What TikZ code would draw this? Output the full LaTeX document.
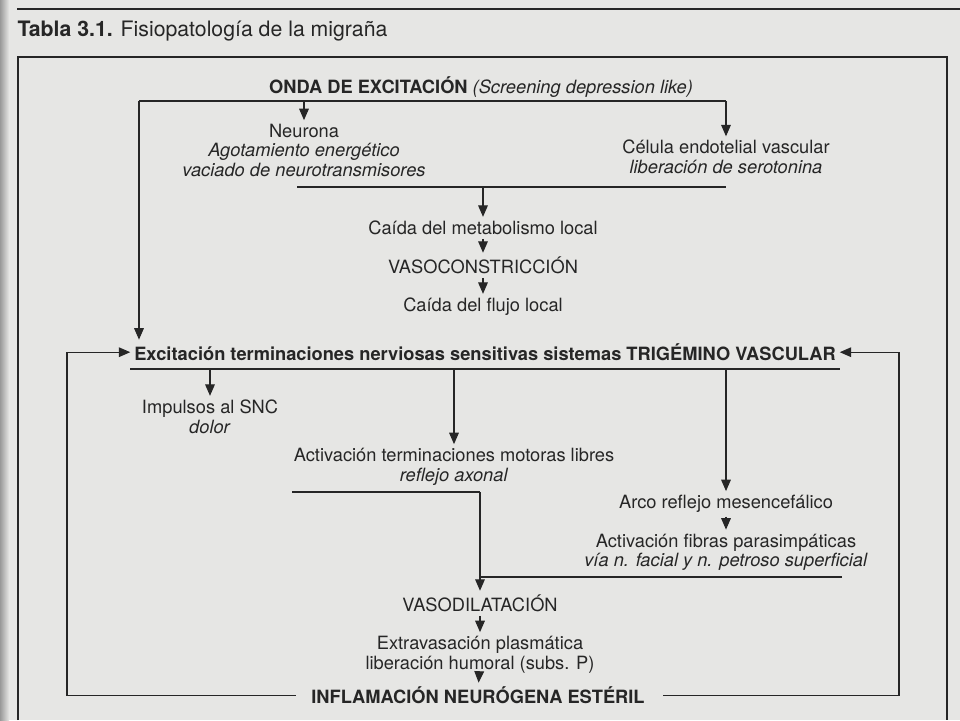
\documentclass[tikz,border=0pt]{standalone}
\usepackage{fontspec}
\setmainfont{TeX Gyre Heros}
\usepackage{tikz}
\usetikzlibrary{arrows.meta}

\definecolor{paper}{RGB}{230,230,228}
\definecolor{ink}{RGB}{38,38,38}

\begin{document}
\begin{tikzpicture}[
  x=0.02cm, y=-0.02cm,
  >={Triangle[length=6.5pt,width=5.5pt]},
  color=ink, line width=0.6pt,
  txt/.style={font=\fontsize{10.4}{11.1}\selectfont, align=center,
    inner sep=2pt, anchor=base},
  hd/.style={txt, font=\fontsize{10.4}{11.1}\selectfont\bfseries},
  frame/.style={line width=1pt},
]
  % Page and frame
  \fill[paper] (0,0) rectangle (960,720);
  \useasboundingbox (0,0) rectangle (960,720);
  \fill[left color=black!40, right color=paper] (0,0) rectangle (9,720);
  \draw[frame] (17,9) -- (960,9);
  \draw[frame] (18,720) -- (18,57) -- (947,57) -- (947,720);

  \node[anchor=base west, inner sep=0pt,
    font=\fontsize{12.1}{14}\selectfont] (title) at (17,36)
    {\textbf{Tabla 3.1.} Fisiopatología de la migraña};

  % Top: excitation wave (base = last line)
  \node[txt] (onda) at (481,93)
    {\textbf{ONDA DE EXCITACIÓN} \textit{(Screening depression like)}};

  \node[txt] (neu) at (304,176.5)
    {Neurona\\\textit{Agotamiento energético}\\\textit{vaciado de neurotransmisores}};
  \node[txt] (cel) at (726,173.5)
    {Célula endotelial vascular\\\textit{liberación de serotonina}};

  % Middle column
  \node[txt] (meta) at (483,234.5) {Caída del metabolismo local};
  \node[txt] (vaso) at (483,273.5) {VASOCONSTRICCIÓN};
  \node[txt] (flujo) at (483,311.5) {Caída del flujo local};

  % Trigeminal line
  \node[hd] (exc) at (485,360.5)
    {Excitación terminaciones nerviosas sensitivas sistemas TRIGÉMINO VASCULAR};

  \node[txt] (snc) at (210,433) {Impulsos al SNC\\\textit{dolor}};
  \node[txt] (mot) at (454,481)
    {Activación terminaciones motoras libres\\\textit{reflejo axonal}};
  \node[txt] (arco) at (726,508.5) {Arco reflejo mesencefálico};
  \node[txt] (fib) at (726,566.5)
    {Activación fibras parasimpáticas\\\textit{vía n. facial y n. petroso superficial}};

  % Bottom
  \node[txt] (vasod) at (480,611.5) {VASODILATACIÓN};
  \node[txt] (extra) at (480,669)
    {Extravasación plasmática\\liberación humoral (subs. P)};
  \node[hd] (infl) at (478,703.5) {INFLAMACIÓN NEURÓGENA ESTÉRIL};

  % Junctions
  \coordinate (ondaL) at (139,101);
  \coordinate (ondaR) at (726,101);
  \coordinate (mergeL) at (297,187);
  \coordinate (mergeR) at (726,187);
  \coordinate (excL) at (130,369);
  \coordinate (excR) at (840,369);
  \coordinate (axL) at (292,492);
  \coordinate (axR) at (480,492);
  \coordinate (paraR) at (842,577);
  \coordinate (loopL) at (67,352);
  \coordinate (loopR) at (899,352);

  % Arrows
  \draw (ondaL) -- (ondaR);
  \draw[->] (ondaL -| neu) -- (neu);
  \draw[->] (ondaR) -- (cel);
  \draw[->] (ondaL) -- (ondaL |- exc.north);
  \draw (mergeL) -- (mergeR);
  \draw[->] (mergeL -| meta) -- (meta);
  \draw[->] (meta) -- (vaso);
  \draw[->] (vaso) -- (flujo);
  \draw (excL) -- (excR);
  \draw[->] (excL -| snc) -- (snc);
  \draw[->] (excL -| mot) -- (mot);
  \draw[->] (excL -| arco) -- (arco);
  \draw[->] (arco) -- (fib);
  \draw (axL) -- (axR);
  \draw (paraR) -- (paraR -| axR);
  \draw[->] (axR) -- (vasod);
  \draw[->] (vasod) -- (extra);
  \draw[->] (extra) -- (infl);
  \draw[->] ([xshift=-0.23cm]infl.west) -| (loopL) |- (exc.west);
  \draw[->] ([xshift=0.29cm]infl.east) -| (loopR) |- (exc.east);
\end{tikzpicture}
\end{document}
